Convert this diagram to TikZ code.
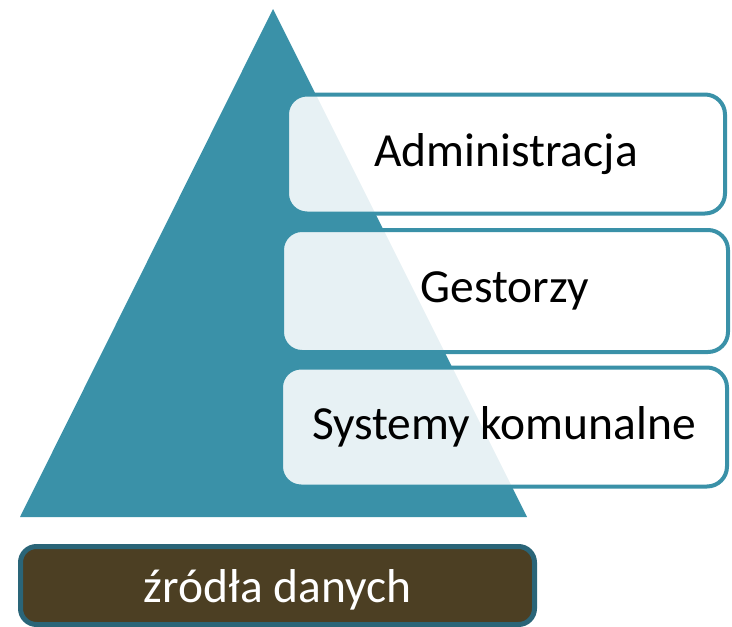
\documentclass[tikz,border=0pt]{standalone}
\usepackage{fontspec}
\setmainfont{Carlito}
\definecolor{teal1}{HTML}{3A91A8}
\definecolor{tealdark}{HTML}{2A6578}
\definecolor{soil}{HTML}{4C3F23}
\begin{document}
\begin{tikzpicture}[x=1pt,y=-1pt,
  tier/.style={draw=teal1, line width=4pt, rounded corners=20pt,
    fill=white, fill opacity=0.88, text opacity=1, text=black,
    font=\fontsize{47.5}{52}\selectfont, inner sep=0pt},
  base/.style={draw=tealdark, line width=5pt, rounded corners=16pt,
    fill=soil, text=white, font=\fontsize{47.5}{52}\selectfont, inner sep=0pt}]
\useasboundingbox (0,0) rectangle (732,627);
% pyramid
\fill[teal1] (273,9) -- (527,517) -- (20,517) -- cycle;
% tiers
\node[tier, minimum width=438pt, minimum height=119pt] (adm) at (506,154) {Administracja};
\node[tier, minimum width=446pt, minimum height=122pt] (ges) at (505,291) {Gestorzy};
\node[tier, minimum width=446pt, minimum height=119pt] (sys) at (504,427) {Systemy komunalne};
% data sources, baseline set low in the box
\node[base, minimum width=514pt, minimum height=78pt] (src) at (277.5,585.5)
  {\raisebox{-16.5pt}[0pt][0pt]{źródła danych}};
\end{tikzpicture}
\end{document}
